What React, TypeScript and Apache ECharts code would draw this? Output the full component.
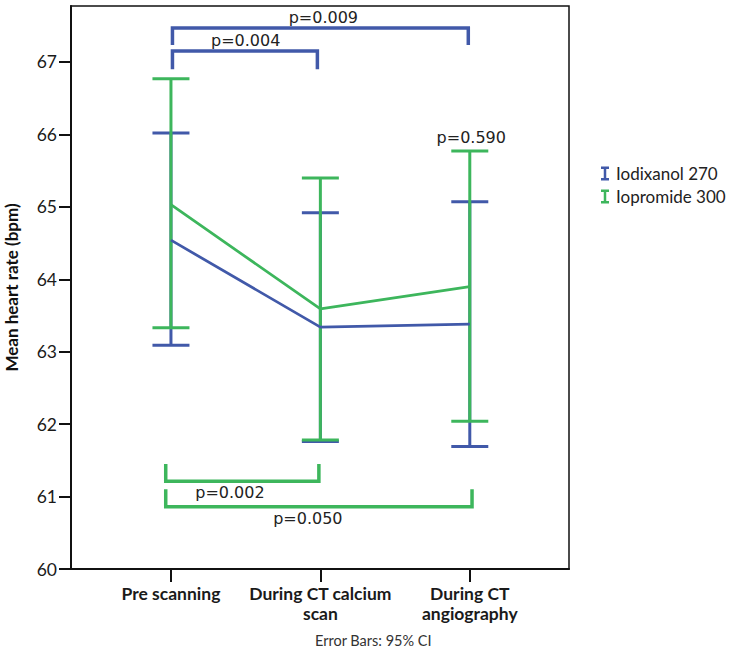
import React, { useEffect, useRef } from "react";
import * as echarts from "echarts";

const categories = ["Pre scanning", "During CT calcium\nscan", "During CT\nangiography"];
const seriesNames = ["Iodixanol 270", "Iopromide 300"];
const iodixanolMean = [64.54, 63.34, 63.38];
const iodixanolLow = [63.09, 61.76, 61.69];
const iodixanolHigh = [66.02, 64.92, 65.07];
const iopromideMean = [65.03, 63.59, 63.9];
const iopromideLow = [63.33, 61.78, 62.04];
const iopromideHigh = [66.77, 65.4, 65.77];
const yTicks = [60, 61, 62, 63, 64, 65, 66, 67];

// significance brackets: [x0, x1, yBar, yEnd, textX, textY]
const bracketLabels = ["p=0.009", "p=0.004", "p=0.002", "p=0.050"];
const bracketSeries = [0, 0, 1, 1];
const bracketGeom = [
  [0.01, 1.99, 67.47, 67.235, 1.02, 67.62],
  [0.01, 0.98, 67.15, 66.9, 0.5, 67.3],
  [-0.035, 0.99, 61.21, 61.45, 0.395, 61.06],
  [-0.035, 2.015, 60.86, 61.1, 0.916, 60.7],
];
const extraLabels = ["p=0.590"];
const extraPos = [[2.01, 65.96]];

const BLUE = "#4159A9";
const GREEN = "#3DB65C";
const colors = [BLUE, GREEN];

export default function App() {
  const ref = useRef<HTMLDivElement>(null);
  useEffect(() => {
    if (!ref.current) return;
    const chart = echarts.init(ref.current, null, { renderer: "svg" });

    const errData = (low: number[], high: number[]) => low.map((l, i) => [i, l, high[i]]);
    const errSeries = (name: string, low: number[], high: number[], color: string) => ({
      type: "custom",
      name: name + " CI",
      data: errData(low, high),
      z: 3,
      renderItem: (params: any, api: any) => {
        const x = api.value(0);
        const lo = api.coord([x, api.value(1)]);
        const hi = api.coord([x, api.value(2)]);
        const hw = 18.5;
        const st = { stroke: color, lineWidth: 3, fill: "none" };
        return {
          type: "group",
          children: [
            { type: "line", shape: { x1: lo[0], y1: lo[1], x2: hi[0], y2: hi[1] }, style: st },
            { type: "line", shape: { x1: lo[0] - hw, y1: lo[1], x2: lo[0] + hw, y2: lo[1] }, style: st },
            { type: "line", shape: { x1: hi[0] - hw, y1: hi[1], x2: hi[0] + hw, y2: hi[1] }, style: st },
          ],
        };
      },
    });

    const option: any = {
      animation: false,
      grid: {
        left: 71,
        right: 165,
        top: 6,
        bottom: 85,
        show: true,
        borderColor: "#111",
        borderWidth: 1.5,
        backgroundColor: "transparent",
        containLabel: false,
        outerBoundsMode: "none",
      },
      legend: {
        data: seriesNames,
        orient: "vertical",
        left: 596,
        top: 160,
        itemGap: 6,
        itemWidth: 8,
        itemHeight: 14,
        icon: "path://M0,0H8V2.5H5.25V11.5H8V14H0V11.5H2.75V2.5H0Z",
        textStyle: { fontSize: 17, fontFamily: "Lato", color: "#222", padding: [0, 0, 0, 2] },
      },
      xAxis: {
        type: "value",
        min: -0.669,
        max: 2.664,
        splitLine: { show: false },
        axisLine: { onZero: false, lineStyle: { color: "#111", width: 2 } },
        axisTick: {
          show: true,
          customValues: [0, 1, 2],
          length: 13,
          lineStyle: { color: "#111", width: 2 },
        },
        axisLabel: {
          customValues: [0, 1, 2],
          formatter: (v: number) => categories[Math.round(v)] ?? "",
          margin: 14,
          fontSize: 17.5,
          fontWeight: "bold",
          fontFamily: "Lato",
          color: "#1a1a1a",
          lineHeight: 20,
        },
      },
      yAxis: {
        type: "value",
        min: 60,
        max: 67.773,
        name: "Mean heart rate (bpm)",
        nameLocation: "middle",
        nameGap: 51,
        nameTextStyle: { fontSize: 17, fontWeight: "bold", fontFamily: "Lato", color: "#111" },
        splitLine: { show: false },
        axisLine: { show: true, onZero: false, lineStyle: { color: "#111", width: 2 } },
        axisTick: { show: true, customValues: yTicks, length: 12, lineStyle: { color: "#111", width: 2 } },
        axisLabel: {
          customValues: yTicks,
          margin: 14,
          fontSize: 17.5,
          fontFamily: "Lato",
          color: "#1a1a1a",
        },
      },
      graphic: [
        {
          type: "text",
          left: 315,
          top: 633,
          style: { text: "Error Bars: 95% CI", fontSize: 14.5, fontFamily: "Lato", fill: "#333" },
        },
      ],
      series: [
        errSeries(seriesNames[0], iodixanolLow, iodixanolHigh, BLUE),
        errSeries(seriesNames[1], iopromideLow, iopromideHigh, GREEN),
        {
          type: "line",
          name: seriesNames[0],
          data: iodixanolMean.map((v, i) => [i, v]),
          symbol: "none",
          color: BLUE,
          lineStyle: { width: 2.75, color: BLUE },
          z: 4,
        },
        {
          type: "line",
          name: seriesNames[1],
          data: iopromideMean.map((v, i) => [i, v]),
          symbol: "none",
          color: GREEN,
          lineStyle: { width: 2.75, color: GREEN },
          z: 4,
        },
        {
          type: "custom",
          name: "brackets",
          data: bracketGeom.map((g, i) => [...g, i]),
          z: 5,
          renderItem: (params: any, api: any) => {
            const i = params.dataIndex;
            const g = bracketGeom[i];
            const p1 = api.coord([g[0], g[3]]);
            const p2 = api.coord([g[0], g[2]]);
            const p3 = api.coord([g[1], g[2]]);
            const p4 = api.coord([g[1], g[3]]);
            const t = api.coord([g[4], g[5]]);
            const color = colors[bracketSeries[i]];
            return {
              type: "group",
              children: [
                {
                  type: "polyline",
                  shape: { points: [p1, p2, p3, p4] },
                  style: { stroke: color, lineWidth: 3.5, fill: "none", lineJoin: "miter" },
                },
                {
                  type: "text",
                  x: t[0],
                  y: t[1],
                  style: {
                    text: bracketLabels[i],
                    fontSize: 16,
                    fontFamily: "DejaVu Sans",
                    fill: "#222",
                    align: "center",
                    verticalAlign: "middle",
                  },
                },
              ],
            };
          },
        },
        {
          type: "custom",
          name: "ptext",
          data: extraPos,
          z: 5,
          renderItem: (params: any, api: any) => {
            const p = api.coord([api.value(0), api.value(1)]);
            return {
              type: "text",
              x: p[0],
              y: p[1],
              style: {
                text: extraLabels[params.dataIndex],
                fontSize: 16,
                fontFamily: "DejaVu Sans",
                fill: "#222",
                align: "center",
                verticalAlign: "middle",
              },
            };
          },
        },
      ],
    };
    chart.setOption(option);
    return () => chart.dispose();
  }, []);
  return <div ref={ref} style={{ width: 734, height: 654, position: "absolute", left: 0, top: 0 }} />;
}
